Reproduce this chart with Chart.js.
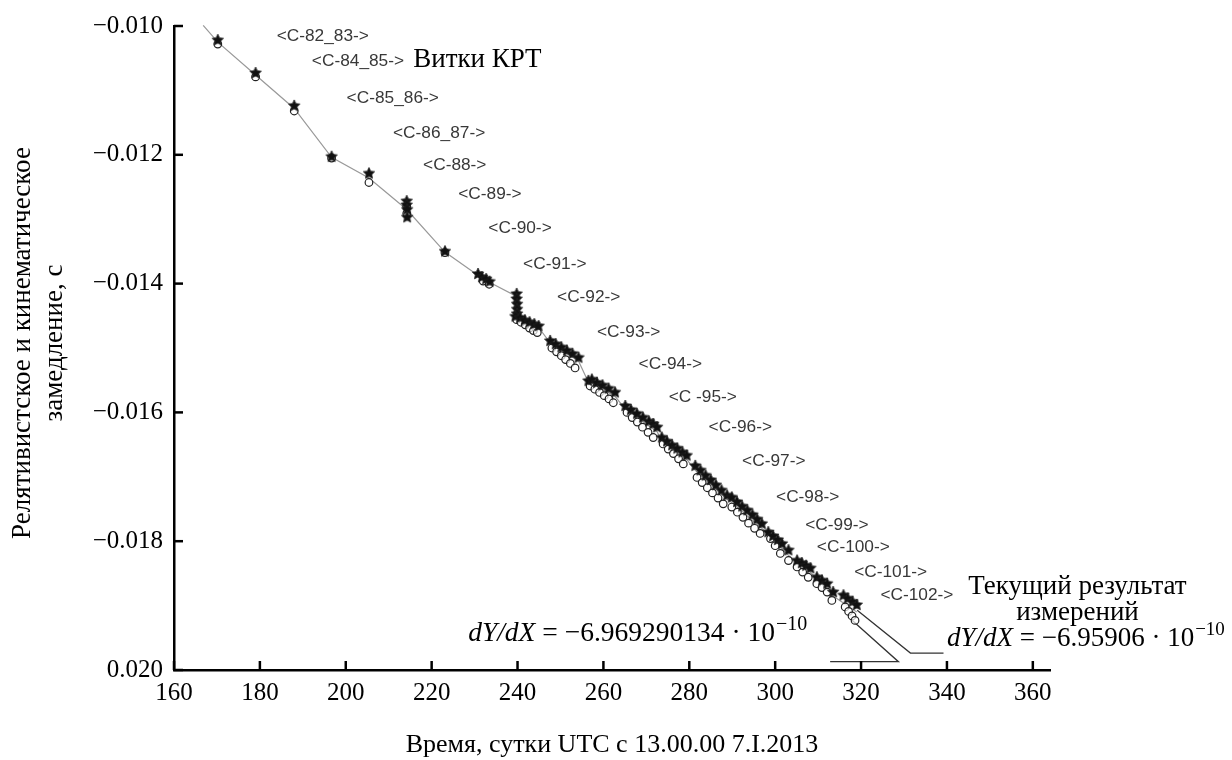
<!DOCTYPE html>
<html>
<head>
<meta charset="utf-8">
<script src="https://cdn.jsdelivr.net/npm/chart.js@4.4.1/dist/chart.umd.min.js"></script>
<style>
  html, body { margin: 0; padding: 0; background: #fff; }
  #wrap { width: 1232px; height: 760px; }
</style>
</head>
<body>
<div id="wrap"><canvas id="grafica" width="1232" height="760"></canvas></div>
<script>
// Ticks
const xTicks = [160, 180, 200, 220, 240, 260, 280, 300, 320, 340, 360];
const yTicks = [-0.020, -0.018, -0.016, -0.014, -0.012, -0.010];

// Serie de estrellas (relleno)
const starX = [170.2, 179.0, 188.0, 196.7, 205.4, 214.2, 214.2, 214.3, 214.3, 223.1,
  230.8, 231.7, 232.7, 233.5,
  239.8, 239.8, 239.9, 239.9, 239.9,
  239.5, 240.6, 241.7, 242.8, 243.9, 244.9,
  247.6, 248.9, 250.2, 251.5, 252.8, 254.2,
  256.5, 257.3, 258.5, 259.8, 261.2, 262.7,
  265.1, 266.4, 267.8, 269.2, 270.6, 271.6, 272.5,
  273.6, 274.8, 276.0, 277.2, 278.4, 279.4,
  281.4, 282.6, 283.8, 285.0, 286.2, 287.5, 288.8,
  289.9, 291.1, 292.3, 293.5, 294.7, 295.8, 296.9,
  298.4, 299.5, 300.6, 301.6, 303.1,
  305.1, 306.2, 307.2, 308.2,
  309.7, 310.9, 312.1, 313.5,
  315.9, 316.9, 318.0, 319.0];
const starY = [-0.01022, -0.01073, -0.01124, -0.01203, -0.01229, -0.01272, -0.01278, -0.01285, -0.01297, -0.01350,
  -0.01385, -0.01390, -0.01393, -0.01397,
  -0.01416, -0.01424, -0.01432, -0.01440, -0.01447,
  -0.01451, -0.01453, -0.01457, -0.01460, -0.01463, -0.01466,
  -0.01489, -0.01494, -0.01499, -0.01504, -0.01509, -0.01515,
  -0.01551, -0.01549, -0.01554, -0.01558, -0.01563, -0.01569,
  -0.01590, -0.01596, -0.01602, -0.01608, -0.01614, -0.01618, -0.01623,
  -0.01639, -0.01645, -0.01651, -0.01656, -0.01662, -0.01667,
  -0.01683, -0.01690, -0.01698, -0.01705, -0.01713, -0.01721, -0.01729,
  -0.01732, -0.01739, -0.01746, -0.01752, -0.01759, -0.01766, -0.01773,
  -0.01786, -0.01792, -0.01798, -0.01804, -0.01814,
  -0.01830, -0.01834, -0.01838, -0.01842,
  -0.01856, -0.01861, -0.01866, -0.01879,
  -0.01884, -0.01889, -0.01894, -0.01899];

// Serie de circulos (abiertos)
const circX = [170.2, 179.0, 188.0, 196.7, 205.4, 214.2, 214.2, 223.1,
  232.0, 233.4,
  239.8, 240.8, 241.8, 242.8, 243.7, 244.6,
  248.0, 249.1, 250.2, 251.2, 252.3, 253.4,
  256.9, 258.0, 259.1, 260.2, 261.3, 262.3,
  265.5, 266.7, 267.9, 269.1, 270.4, 271.6,
  273.9, 275.1, 276.3, 277.5, 278.6,
  281.8, 283.0, 284.2, 285.4, 286.7, 287.9,
  289.9, 291.2, 292.5, 293.8, 295.2, 296.5,
  298.9, 300.0, 301.2, 303.1,
  305.1, 306.4, 307.7,
  309.7, 310.9, 312.1, 313.2,
  316.3, 317.1, 317.9, 318.6];
const circY = [-0.01028, -0.01079, -0.01132, -0.01205, -0.01243, -0.01280, -0.01291, -0.01352,
  -0.01396, -0.01401,
  -0.01456, -0.01460, -0.01464, -0.01469, -0.01473, -0.01476,
  -0.01500, -0.01506, -0.01512, -0.01518, -0.01524, -0.01531,
  -0.01559, -0.01564, -0.01569, -0.01574, -0.01579, -0.01585,
  -0.01600, -0.01608, -0.01615, -0.01623, -0.01631, -0.01639,
  -0.01649, -0.01657, -0.01664, -0.01672, -0.01680,
  -0.01701, -0.01709, -0.01717, -0.01725, -0.01733, -0.01742,
  -0.01747, -0.01755, -0.01763, -0.01772, -0.01780, -0.01788,
  -0.01796, -0.01807, -0.01819, -0.01830,
  -0.01840, -0.01848, -0.01856,
  -0.01866, -0.01872, -0.01879, -0.01892,
  -0.01902, -0.01909, -0.01916, -0.01923];

// Linea gris que une los puntos
const lineaX = [166.8, 170.2, 179.0, 188.0, 196.7, 205.4, 214.2, 223.1, 232.0, 239.8, 239.8, 244.9, 247.6, 254.2,
  256.5, 262.7, 265.1, 272.5, 273.6, 279.4, 281.4, 288.8, 289.9, 296.9, 298.4, 303.1, 308.2, 313.5, 319.0];
const lineaY = [-0.00999, -0.01025, -0.01076, -0.01128, -0.01204, -0.01236, -0.01285, -0.01351, -0.01393, -0.01420, -0.01450, -0.01468, -0.01492, -0.01520,
  -0.01553, -0.01575, -0.01595, -0.01630, -0.01644, -0.01673, -0.01690, -0.01735, -0.01740, -0.01780, -0.01790, -0.01822, -0.01848, -0.01885, -0.01910];

// Lineas de referencia hacia las formulas
const refAX = [319.1, 331.5, 339.2];
const refAY = [-0.019071, -0.019737, -0.019737];
const refBX = [317.9, 328.7, 312.8];
const refBY = [-0.019226, -0.019871, -0.019871];

// Etiquetas de vitkov
const vitkiTexto = ['<C-82_83->', '<C-84_85->', '<C-85_86->', '<C-86_87->', '<C-88->', '<C-89->', '<C-90->',
  '<C-91->', '<C-92->', '<C-93->', '<C-94->', '<C -95->', '<C-96->', '<C-97->', '<C-98->', '<C-99->',
  '<C-100->', '<C-101->', '<C-102->'];
const vitkiX = [183.9, 192.1, 200.2, 211.0, 218.0, 226.2, 233.2, 241.3, 249.2, 258.5, 268.2, 275.2, 284.5,
  292.3, 300.2, 307.0, 309.7, 318.4, 324.5];
const vitkiY = [-0.01017, -0.01055, -0.01113, -0.01167, -0.01217, -0.01262, -0.01315, -0.01370, -0.01421,
  -0.01476, -0.01526, -0.01577, -0.01624, -0.01676, -0.01733, -0.01776, -0.01810, -0.01848, -0.01884];

const SERIF = '"Liberation Serif", "Times New Roman", serif';

function aPuntos(xs, ys) {
    return xs.map((v, i) => ({ x: v, y: ys[i] }));
}

function estrella(r) {
    const c = document.createElement('canvas');
    const s = Math.ceil(r * 2 + 2);
    c.width = s; c.height = s;
    const g = c.getContext('2d');
    g.translate(s / 2, s / 2);
    g.beginPath();
    for (let i = 0; i < 10; i++) {
        const rad = i % 2 ? r * 0.48 : r;
        const a = -Math.PI / 2 + i * Math.PI / 5;
        g.lineTo(rad * Math.cos(a), rad * Math.sin(a));
    }
    g.closePath();
    g.fillStyle = '#111';
    g.fill();
    g.strokeStyle = '#222';
    g.lineWidth = 0.8;
    g.stroke();
    return c;
}

// dY/dX = mantisa · 10^-10
function formula(ctx, x, y, mantisa, size) {
    ctx.textAlign = 'left';
    ctx.textBaseline = 'alphabetic';
    ctx.font = `italic ${size}px ${SERIF}`;
    ctx.fillText('dY/dX', x, y);
    x += ctx.measureText('dY/dX').width;
    ctx.font = `${size}px ${SERIF}`;
    const cuerpo = ' = \u2212' + mantisa + ' \u00b7 10';
    ctx.fillText(cuerpo, x, y);
    x += ctx.measureText(cuerpo).width;
    ctx.font = `${Math.round(size * 0.72)}px ${SERIF}`;
    ctx.fillText('\u221210', x + 1, y - size * 0.42);
}

const anotaciones = {
    id: 'anotaciones',
    afterDatasetsDraw(chart) {
        const { ctx, chartArea } = chart;
        const x = chart.scales.x, y = chart.scales.y;
        ctx.save();

        // marcas hacia adentro
        ctx.strokeStyle = '#000';
        ctx.lineWidth = 2.5;
        xTicks.forEach(v => {
            const px = x.getPixelForValue(v);
            ctx.beginPath();
            ctx.moveTo(px, chartArea.bottom);
            ctx.lineTo(px, chartArea.bottom - 9);
            ctx.stroke();
        });
        yTicks.forEach(v => {
            const py = y.getPixelForValue(v);
            ctx.beginPath();
            ctx.moveTo(chartArea.left, py);
            ctx.lineTo(chartArea.left + 9, py);
            ctx.stroke();
        });

        // etiquetas de vitkov
        ctx.fillStyle = '#383838';
        ctx.font = '16px "Liberation Sans", Arial, sans-serif';
        ctx.textAlign = 'left';
        ctx.textBaseline = 'middle';
        vitkiTexto.forEach((t, i) => {
            ctx.save();
            ctx.translate(x.getPixelForValue(vitkiX[i]), y.getPixelForValue(vitkiY[i]));
            ctx.scale(1.08, 1);
            ctx.fillText(t, 0, 0);
            ctx.restore();
        });

        ctx.fillStyle = '#000';
        ctx.font = `27px ${SERIF}`;
        ctx.fillText('Витки КРТ', x.getPixelForValue(215.7), y.getPixelForValue(-0.010526));

        ctx.textAlign = 'center';
        ctx.textBaseline = 'alphabetic';
        ctx.fillText('Текущий результат', x.getPixelForValue(370.4), y.getPixelForValue(-0.018824));
        ctx.fillText('измерений', x.getPixelForValue(370.4), y.getPixelForValue(-0.019226));

        formula(ctx, x.getPixelForValue(340.0), y.getPixelForValue(-0.019628), '6.95906', 27);
        formula(ctx, x.getPixelForValue(228.5), y.getPixelForValue(-0.019551), '6.969290134', 27.5);

        // titulos de ejes
        ctx.font = `26px ${SERIF}`;
        ctx.textAlign = 'center';
        ctx.textBaseline = 'middle';
        ctx.fillText('Время, сутки UTC с 13.00.00 7.I.2013', 612, 745);
        ctx.save();
        ctx.translate(23, 343);
        ctx.rotate(-Math.PI / 2);
        ctx.font = `27px ${SERIF}`;
        ctx.fillText('Релятивистское и кинематическое', 0, 0, 400);
        ctx.fillText('замедление, с', 0, 32);
        ctx.restore();

        ctx.restore();
    }
};

document.addEventListener('DOMContentLoaded', () => {
    const ctx = document.getElementById('grafica').getContext('2d');
    new Chart(ctx, {
        type: 'scatter',
        data: {
            datasets: [
                {
                    label: 'estrellas',
                    data: aPuntos(starX, starY),
                    pointStyle: estrella(6),
                    pointRadius: 6,
                    clip: false,
                    order: 1
                },
                {
                    label: 'circulos',
                    data: aPuntos(circX, circY),
                    pointStyle: 'circle',
                    pointRadius: 3.8,
                    borderWidth: 1.2,
                    borderColor: '#222',
                    backgroundColor: 'rgba(255,255,255,0.7)',
                    clip: false,
                    order: 2
                },
                {
                    label: 'linea',
                    data: aPuntos(lineaX, lineaY),
                    showLine: true,
                    pointRadius: 0,
                    borderColor: '#999',
                    borderWidth: 1.2,
                    clip: false,
                    order: 3
                },
                {
                    label: 'refA',
                    data: aPuntos(refAX, refAY),
                    showLine: true,
                    pointRadius: 0,
                    borderColor: '#333',
                    borderWidth: 1.3,
                    clip: false,
                    order: 4
                },
                {
                    label: 'refB',
                    data: aPuntos(refBX, refBY),
                    showLine: true,
                    pointRadius: 0,
                    borderColor: '#333',
                    borderWidth: 1.3,
                    clip: false,
                    order: 4
                }
            ]
        },
        options: {
            responsive: false,
            animation: false,
            layout: { padding: { top: 24, right: 182, left: 0, bottom: 0 } },
            plugins: {
                legend: { display: false },
                tooltip: { enabled: false }
            },
            scales: {
                x: {
                    type: 'linear',
                    min: 160,
                    max: 364,
                    afterFit: s => { s.height = 90; },
                    afterBuildTicks: s => { s.ticks = xTicks.map(v => ({ value: v })); },
                    grid: { display: false, drawTicks: false },
                    border: { display: true, color: '#000', width: 2.5 },
                    ticks: {
                        color: '#000',
                        padding: 8,
                        font: { family: SERIF, size: 25 },
                        callback: v => String(v)
                    }
                },
                y: {
                    type: 'linear',
                    min: -0.020,
                    max: -0.010,
                    afterFit: s => { s.width = 174; },
                    afterBuildTicks: s => { s.ticks = yTicks.map(v => ({ value: v })); },
                    grid: { display: false, drawTicks: false },
                    border: { display: true, color: '#000', width: 2.5 },
                    ticks: {
                        color: '#000',
                        padding: 11,
                        font: { family: SERIF, size: 25 },
                        callback: v => Math.abs(v + 0.02) < 1e-9 ? '0.020' : '\u2212' + Math.abs(v).toFixed(3)
                    }
                }
            }
        },
        plugins: [anotaciones]
    });
});
</script>
</body>
</html>
